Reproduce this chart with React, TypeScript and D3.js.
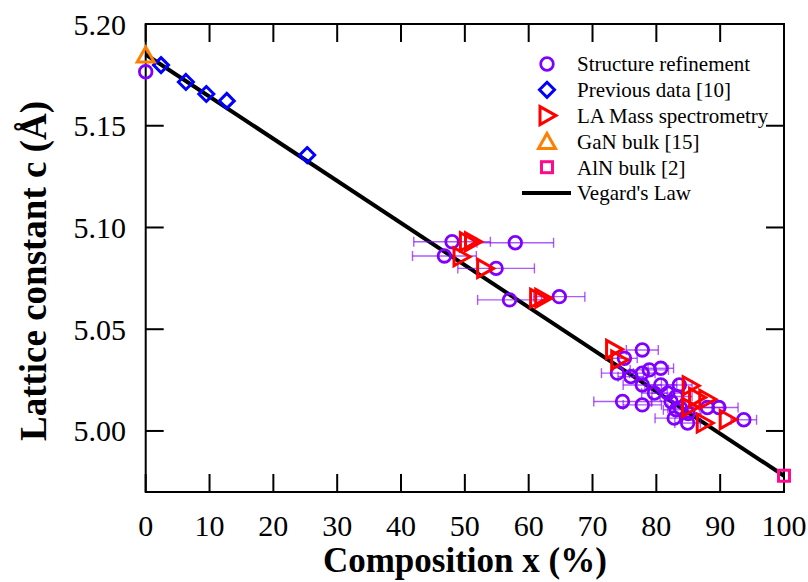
import React from "react";
import * as d3 from "d3";

// Structure refinement (x in %, c in Å, x error in %)
const refX = [0, 48.0, 57.9, 46.8, 54.9, 57.0, 64.8, 77.8, 75.0, 73.9, 76.0, 77.8, 78.9, 80.7, 77.8, 80.7, 79.7, 81.8, 83.6, 74.7, 77.8, 82.3, 83.1, 82.8, 84.9, 83.8, 83.1, 88.0, 89.8, 93.7, 85.0];
const refC = [5.1765, 5.0930, 5.0925, 5.0860, 5.0799, 5.0644, 5.0660, 5.0398, 5.0357, 5.0284, 5.0267, 5.0284, 5.0300, 5.0308, 5.0226, 5.0226, 5.0186, 5.0186, 5.0226, 5.0145, 5.0128, 5.0145, 5.0104, 5.0063, 5.0039, 5.0112, 5.0169, 5.0115, 5.0115, 5.0055, 5.0086];
const refErr = [0, 6, 6, 5, 6, 5, 4, 2.5, 2, 2.5, 2, 2, 3, 2, 3, 2.5, 2, 2.5, 2, 4.5, 3, 3, 2, 3, 2, 2, 2.5, 2.5, 3, 2, 2];

// Previous data [10]
const prevX = [2.4, 6.3, 9.5, 12.7, 25.3];
const prevC = [5.1798, 5.1715, 5.1656, 5.1622, 5.1356];

// LA Mass spectrometry
const laX = [50.4, 51.2, 49.4, 53.1, 61.4, 62.2, 73.3, 74.1, 85.3, 86.3, 87.9, 85.2, 87.5, 91.1];
const laC = [5.0930, 5.0930, 5.0856, 5.0799, 5.0652, 5.0652, 5.0401, 5.0349, 5.0222, 5.0165, 5.0156, 5.0116, 5.0039, 5.0056];

// Bulk references
const ganX = [0];
const ganC = [5.1848];
const alnX = [100];
const alnC = [4.978];

// Vegard's law end points
const vegX = [0, 100];
const vegC = [5.185, 4.978];

const xTicks = [0, 10, 20, 30, 40, 50, 60, 70, 80, 90, 100];
const yTicks = [5.0, 5.05, 5.1, 5.15, 5.2];

const legendLabels = [
  "Structure refinement",
  "Previous data [10]",
  "LA Mass spectrometry",
  "GaN bulk [15]",
  "AlN bulk [2]",
  "Vegard's Law",
];

const W = 808;
const H = 582;
const left = 145.7;
const right = 784;
const top = 24;
const bottom = 492;

const PURPLE = "#8000ff";
const BLUE = "#0000ff";
const RED = "#ff0000";
const ORANGE = "#ff8000";
const PINK = "#ff0a8c";
const FONT = "'Liberation Serif', 'Times New Roman', serif";

const x = d3.scaleLinear().domain([0, 100]).range([left, right]);
const y = d3.scaleLinear().domain([4.97, 5.2]).range([bottom, top]);

const circle = (cx: number, cy: number, key: any) => (
  <circle key={key} cx={cx} cy={cy} r={6.3} fill="none" stroke={PURPLE} strokeWidth={2.8} />
);
const diamond = (cx: number, cy: number, key: any) => {
  const s = 7.5;
  return (
    <path key={key} d={`M${cx},${cy - s}L${cx + s},${cy}L${cx},${cy + s}L${cx - s},${cy}Z`} fill="none" stroke={BLUE} strokeWidth={3} />
  );
};
const triRight = (cx: number, cy: number, key: any) => (
  <path key={key} d={`M${cx - 7},${cy - 9}L${cx + 9},${cy}L${cx - 7},${cy + 9}Z`} fill="none" stroke={RED} strokeWidth={3} strokeLinejoin="miter" />
);
const triUp = (cx: number, cy: number, key: any) => (
  <path key={key} d={`M${cx},${cy - 8}L${cx + 8.5},${cy + 7}L${cx - 8.5},${cy + 7}Z`} fill="none" stroke={ORANGE} strokeWidth={3} />
);
const square = (cx: number, cy: number, key: any) => (
  <rect key={key} x={cx - 5.5} y={cy - 5.5} width={11} height={11} fill="none" stroke={PINK} strokeWidth={3} />
);

export default function App() {
  const line = d3
    .line<number>()
    .x((d) => x(vegX[d]))
    .y((d) => y(vegC[d]));
  const tickLen = 18;
  const legX = 547;
  const legY0 = 64;
  const legDy = 25.8;

  return (
    <svg
      width={W}
      height={H}
      style={{ position: "absolute", left: 0, top: 0, background: "#fff" }}
      fontFamily={FONT}
    >
      <rect x={0} y={0} width={W} height={H} fill="#fff" />

      {/* frame */}
      <rect x={left} y={top} width={right - left} height={bottom - top} fill="none" stroke="#000" strokeWidth={2} />

      {/* x ticks: bottom and top, inward */}
      {xTicks.map((t) => (
        <g key={"xt" + t}>
          <line x1={x(t)} x2={x(t)} y1={bottom} y2={bottom - tickLen} stroke="#000" strokeWidth={2} />
          <line x1={x(t)} x2={x(t)} y1={top} y2={top + tickLen} stroke="#000" strokeWidth={2} />
          <text x={x(t)} y={536} textAnchor="middle" fontSize={30} fill="#000">
            {t}
          </text>
        </g>
      ))}

      {/* y ticks: left and right, inward */}
      {yTicks.map((t) => (
        <g key={"yt" + t}>
          <line x1={left} x2={left + tickLen} y1={y(t)} y2={y(t)} stroke="#000" strokeWidth={2} />
          <line x1={right} x2={right - tickLen} y1={y(t)} y2={y(t)} stroke="#000" strokeWidth={2} />
          <text x={126} y={y(t)} dy="0.35em" textAnchor="end" fontSize={30} fill="#000">
            {d3.format(".2f")(t)}
          </text>
        </g>
      ))}

      {/* axis titles */}
      <text x={(left + right) / 2} y={572} textAnchor="middle" fontSize={35} fontWeight="bold" fill="#000">
        Composition x (%)
      </text>
      <text
        transform={`translate(46, 271) rotate(-90)`}
        textAnchor="middle"
        fontSize={37}
        fontWeight="bold"
        fill="#000"
      >
        Lattice constant c (Å)
      </text>

      {/* Vegard's law */}
      <path d={line([0, 1]) || ""} fill="none" stroke="#000" strokeWidth={4} />

      {/* error bars */}
      {refX.map((v, i) =>
        refErr[i] > 0 ? (
          <g key={"eb" + i} stroke={PURPLE} strokeOpacity={0.65} strokeWidth={1.4}>
            <line x1={x(v - refErr[i])} x2={x(v + refErr[i])} y1={y(refC[i])} y2={y(refC[i])} />
            <line x1={x(v - refErr[i])} x2={x(v - refErr[i])} y1={y(refC[i]) - 5} y2={y(refC[i]) + 5} />
            <line x1={x(v + refErr[i])} x2={x(v + refErr[i])} y1={y(refC[i]) - 5} y2={y(refC[i]) + 5} />
          </g>
        ) : null
      )}

      {/* markers */}
      {refX.map((v, i) => circle(x(v), y(refC[i]), "rc" + i))}
      {prevX.map((v, i) => diamond(x(v), y(prevC[i]), "pd" + i))}
      {laX.map((v, i) => triRight(x(v), y(laC[i]), "la" + i))}
      {ganX.map((v, i) => triUp(x(v), y(ganC[i]), "gn" + i))}
      {alnX.map((v, i) => square(x(v), y(alnC[i]), "al" + i))}

      {/* legend */}
      {circle(legX, legY0, "lg0")}
      {diamond(legX, legY0 + legDy, "lg1")}
      {triRight(legX, legY0 + 2 * legDy, "lg2")}
      {triUp(legX, legY0 + 3 * legDy, "lg3")}
      {square(legX, legY0 + 4 * legDy, "lg4")}
      <line x1={522} x2={571} y1={legY0 + 5 * legDy} y2={legY0 + 5 * legDy} stroke="#000" strokeWidth={4} />
      {legendLabels.map((s, i) => (
        <text key={"ll" + i} x={577} y={legY0 + i * legDy} dy="0.35em" fontSize={21} fill="#000">
          {s}
        </text>
      ))}
    </svg>
  );
}
